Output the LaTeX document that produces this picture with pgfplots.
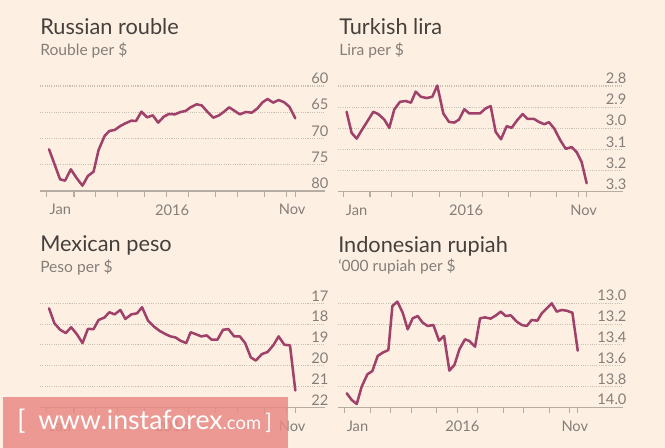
\documentclass[border=0pt]{standalone}
\usepackage{fontspec}
\setmainfont{Lato}
\usepackage{pgfplots}
\pgfplotsset{compat=1.18}
\definecolor{bg}{HTML}{FDF0E3}
\definecolor{titlec}{HTML}{45403C}
\definecolor{subc}{HTML}{857E78}
\definecolor{labc}{HTML}{857E78}
\definecolor{axisc}{HTML}{B5ADA3}
\definecolor{gridc}{HTML}{C9C0B4}
\definecolor{linec}{HTML}{A0416A}
\definecolor{wm}{HTML}{E88A84}
\pgfplotsset{ftstyle/.style={
  scale only axis, width=213.75pt, anchor=center,
  axis x line*=bottom, axis y line*=right,
  y axis line style={draw=none},
  x axis line style={color=axisc, line width=0.8pt},
  y dir=reverse,
  ymajorgrids, grid style={gridc, line width=0.8pt, dash pattern=on 0.8pt off 0.9pt},
  ytick style={draw=none},
  xtick={0,5,9,13,18,22,26,31,35,40,44,45.6}, xticklabels={},
  x tick style={color=axisc, line width=0.8pt}, tick align=outside, major tick length=4.3pt,
  extra x ticks={2.5,23,45}, extra x tick labels={Jan,2016,Nov},
  extra x tick style={major tick length=0pt, xticklabel style={yshift=-6.5pt}},
  yticklabel style={anchor=south east, inner sep=0pt, xshift=-1.5pt, yshift=1.5pt, font=\fontsize{11}{11}\selectfont, text=labc},
  xticklabel style={font=\fontsize{11}{11}\selectfont, text=labc},
  /pgf/number format/assume math mode=true,
  clip=false
}, ftline/.style={linec, line width=1.9pt, line join=round, line cap=round, mark=none}}
\begin{document}
\begin{tikzpicture}
\fill[bg] (0pt,0pt) rectangle (498.75pt,-336pt);
% titles
\node[anchor=base west, inner sep=0pt, text=titlec, font=\fontsize{16.3}{16.3}\selectfont] at (30pt,-25.9pt) {Russian rouble};
\node[anchor=base west, inner sep=0pt, text=subc, font=\fontsize{11.7}{11.7}\selectfont] at (30pt,-42pt) {Rouble per \$};
\node[anchor=base west, inner sep=0pt, text=titlec, font=\fontsize{16.3}{16.3}\selectfont] at (254.25pt,-25.9pt) {Turkish lira};
\node[anchor=base west, inner sep=0pt, text=subc, font=\fontsize{11.7}{11.7}\selectfont] at (254.25pt,-42pt) {Lira per \$};
\node[anchor=base west, inner sep=0pt, text=titlec, font=\fontsize{16.3}{16.3}\selectfont] at (30pt,-189pt) {Mexican peso};
\node[anchor=base west, inner sep=0pt, text=subc, font=\fontsize{11.7}{11.7}\selectfont] at (30pt,-204.2pt) {Peso per \$};
\node[anchor=base west, inner sep=0pt, text=titlec, font=\fontsize{16.3}{16.3}\selectfont] at (253.5pt,-189.4pt) {Indonesian rupiah};
\node[anchor=base west, inner sep=0pt, text=subc, font=\fontsize{11.7}{11.7}\selectfont] at (253.5pt,-204pt) {‘000 rupiah per \$};

% Russian rouble
\begin{axis}[ftstyle, at={(136.875pt,-103.875pt)}, height=78.75pt,
  xmin=-1.23, xmax=51.02, ymin=60, ymax=80, ytick={60,65,70,75,80}]
\addplot[ftline] coordinates {(0.43,72.06)(2.45,77.78)(3.37,78.03)(4.42,75.87)(5.52,77.59)(6.56,78.98)(7.55,77.14)(8.59,76.32)(9.51,72.19)(10.61,69.52)(11.47,68.57)(12.45,68.38)(13.50,67.62)(14.42,67.11)(15.52,66.60)(16.38,66.67)(17.36,64.89)(18.40,65.97)(19.45,65.59)(20.43,66.98)(21.47,65.84)(22.39,65.33)(23.50,65.40)(24.54,64.95)(25.46,64.76)(26.38,64.06)(27.48,63.49)(28.40,63.68)(29.45,64.89)(30.55,66.03)(31.60,65.59)(32.52,64.89)(33.44,64.06)(34.48,64.76)(35.40,65.40)(36.50,64.95)(37.61,65.08)(38.65,64.25)(39.57,63.11)(40.49,62.48)(41.53,63.17)(42.52,62.67)(43.56,63.11)(44.48,63.94)(45.58,66.16)};
\end{axis}

% Turkish lira
\begin{axis}[ftstyle, at={(360.375pt,-104.14pt)}, height=79.3pt,
  xmin=-0.99, xmax=52.37, ymin=2.8, ymax=3.3, ytick={2.8,2.9,3.0,3.1,3.2,3.3},
  yticklabel={\pgfmathprintnumber[fixed,fixed zerofill,precision=1]{\tick}}]
\addplot[ftline] coordinates {(0.62,2.922)(1.56,3.022)(2.50,3.049)(3.43,3.010)(4.56,2.965)(5.62,2.922)(6.55,2.933)(7.68,2.959)(8.61,2.998)(9.55,2.911)(10.61,2.875)(11.67,2.871)(12.67,2.879)(13.55,2.827)(14.54,2.851)(15.61,2.857)(16.67,2.851)(17.60,2.798)(18.73,2.930)(19.79,2.970)(20.79,2.973)(21.66,2.959)(22.66,2.910)(23.60,2.930)(24.66,2.930)(25.59,2.930)(26.65,2.906)(27.59,2.895)(28.53,3.017)(29.53,3.052)(30.59,2.990)(31.52,2.998)(32.65,2.959)(33.58,2.933)(34.52,2.956)(35.71,2.956)(36.64,2.970)(37.64,2.981)(38.51,2.971)(39.51,3.002)(40.57,3.054)(41.64,3.097)(42.76,3.089)(43.70,3.113)(44.63,3.160)(45.57,3.260)};
\end{axis}

% Mexican peso
\begin{axis}[ftstyle, at={(136.875pt,-266.5pt)}, height=78pt,
  xmin=-1.23, xmax=51.02, ymin=17, ymax=22, ytick={17,18,19,20,21,22}]
\addplot[ftline] coordinates {(0.43,17.24)(1.41,17.96)(2.45,18.27)(3.50,18.43)(4.48,18.15)(5.52,18.48)(6.56,18.91)(7.55,18.23)(8.59,18.24)(9.51,17.80)(10.61,17.68)(11.47,17.43)(12.45,17.53)(13.50,17.32)(14.42,17.75)(15.52,17.53)(16.56,17.48)(17.48,17.19)(18.59,17.84)(19.63,18.11)(20.67,18.32)(21.78,18.48)(22.70,18.59)(23.62,18.64)(24.54,18.80)(25.58,18.91)(26.38,18.39)(27.30,18.48)(28.34,18.59)(29.33,18.54)(30.25,18.75)(31.29,18.75)(32.33,18.27)(33.31,18.24)(34.36,18.59)(35.40,18.59)(36.38,18.91)(37.42,19.60)(38.34,19.75)(39.45,19.44)(40.49,19.34)(41.53,19.02)(42.52,18.59)(43.56,18.99)(44.60,19.02)(45.58,21.19)};
\end{axis}

% Indonesian rupiah
\begin{axis}[ftstyle, at={(360.375pt,-266.5pt)}, height=78pt,
  xmin=-1.31, xmax=54.42, ymin=13.0, ymax=14.0, ytick={13.0,13.2,13.4,13.6,13.8,14.0},
  yticklabel={\pgfmathprintnumber[fixed,fixed zerofill,precision=1]{\tick}}]
\addplot[ftline] coordinates {(0.39,13.865)(1.37,13.929)(2.35,13.968)(3.32,13.801)(4.43,13.683)(5.41,13.651)(6.45,13.506)(7.43,13.474)(8.54,13.449)(9.32,13.026)(10.30,12.984)(11.34,13.090)(12.32,13.250)(13.30,13.144)(14.28,13.122)(15.25,13.186)(16.23,13.218)(17.34,13.208)(18.45,13.359)(19.43,13.314)(20.47,13.647)(21.45,13.593)(22.43,13.442)(23.53,13.346)(24.38,13.362)(25.49,13.417)(26.47,13.144)(27.44,13.135)(28.55,13.147)(29.60,13.115)(30.51,13.080)(31.49,13.122)(32.46,13.115)(33.64,13.176)(34.62,13.208)(35.59,13.218)(36.57,13.160)(37.68,13.167)(38.53,13.096)(39.52,13.048)(40.48,13.000)(41.46,13.080)(42.44,13.064)(43.42,13.071)(44.52,13.090)(45.57,13.455)};
\end{axis}

% watermark
\fill[wm, opacity=0.85] (2.25pt,-297.75pt) rectangle (216pt,-336pt);
\node[anchor=base west, inner sep=0pt, text=white, font=\fontsize{20}{20}\selectfont] at (12.75pt,-322.5pt) {[};
\node[anchor=base west, inner sep=0pt, text=white, font=\fontsize{20}{20}\selectfont] at (28.5pt,-322.5pt) {www.instaforex\fontsize{13.8}{13.8}\selectfont.com};
\node[anchor=base west, inner sep=0pt, text=white, font=\fontsize{16}{16}\selectfont] at (198.75pt,-322.5pt) {]};
\end{tikzpicture}
\end{document}
